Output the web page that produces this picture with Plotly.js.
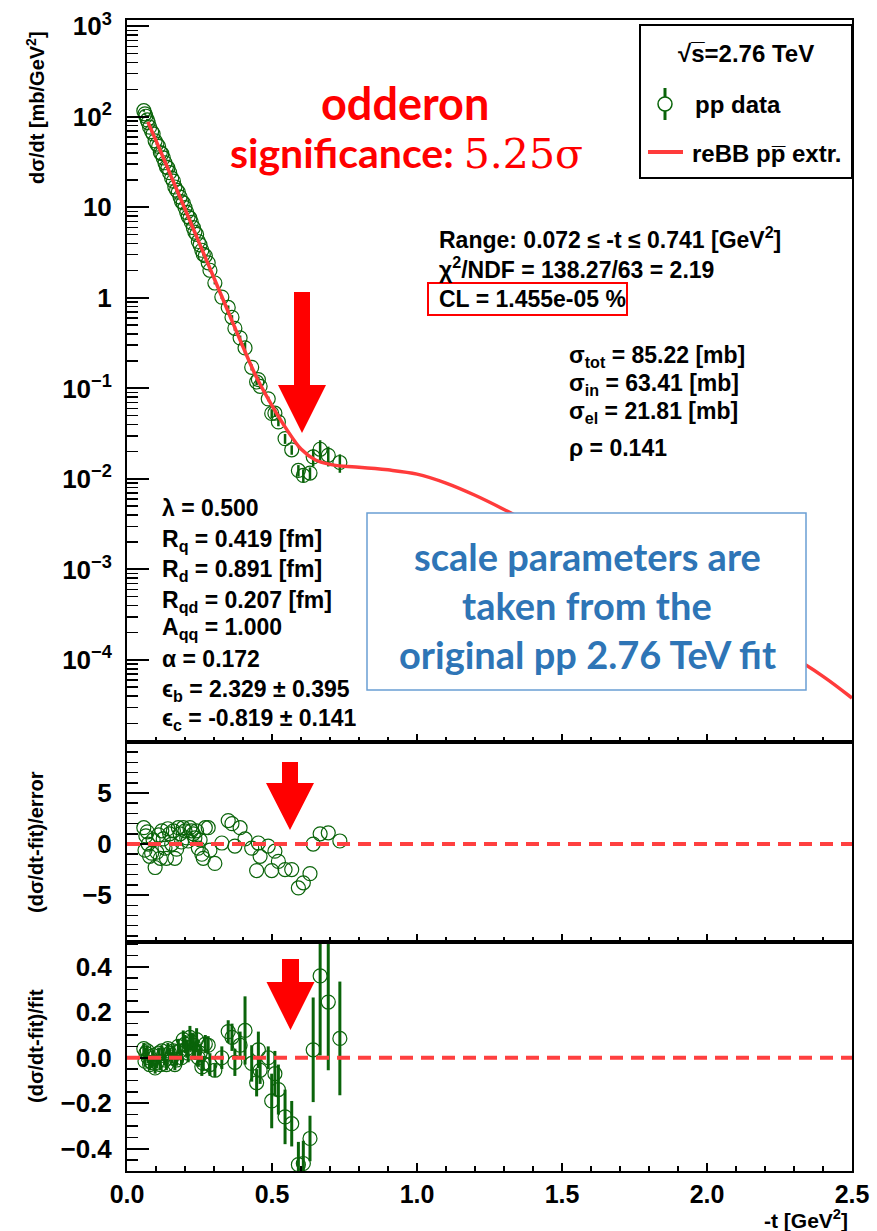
<!DOCTYPE html>
<html><head><meta charset="utf-8">
<script src="https://cdn.plot.ly/plotly-3.0.1.min.js"></script>
<style>html,body{margin:0;padding:0;background:#fff}</style>
</head><body><div id="plot" style="width:877px;height:1231px"></div>
<script>
// ---- data ----
const t = [0.058,0.062,0.065,0.070,0.073,0.078,0.085,0.090,0.097,0.103,0.109,0.115,0.120,0.125,0.131,0.136,0.141,0.147,0.154,0.160,0.165,0.171,0.177,0.183,0.188,0.194,0.200,0.206,0.211,0.217,0.222,0.229,0.234,0.240,0.246,0.252,0.258,0.263,0.270,0.280,0.286,0.303,0.327,0.349,0.362,0.372,0.390,0.407,0.430,0.447,0.453,0.459,0.487,0.499,0.510,0.522,0.545,0.568,0.591,0.608,0.631,0.642,0.666,0.694,0.734];
const dsdt = [117,108,101.6,92.5,86.5,76.9,68.7,64.9,54.3,50.1,47.1,40.3,39.2,35.2,31.1,27.9,27.4,24.2,21.0,19.5,16.8,15.5,14.7,13.0,11.6,11.2,9.94,8.79,7.91,7.59,6.82,5.96,5.33,5.02,4.20,3.85,3.36,3.03,2.92,2.44,2.02,1.46,1.02,0.785,0.61,0.461,0.362,0.2805,0.171,0.1178,0.1253,0.1055,0.0767,0.0530,0.0533,0.0427,0.0279,0.0210,0.01242,0.01094,0.01162,0.01754,0.02128,0.01824,0.01520];
const dsdtErr = [3.0,2.8,2.6,2.4,2.2,1.9,1.7,1.6,1.4,1.3,1.2,1.0,1.0,0.9,0.8,0.7,0.7,0.6,0.5,0.5,0.4,0.4,0.4,0.35,0.3,0.35,0.3,0.3,0.25,0.3,0.25,0.25,0.2,0.22,0.17,0.15,0.13,0.1,0.11,0.1,0.09,0.05,0.05,0.04,0.035,0.027,0.022,0.04,0.013,0.009,0.01,0.0065,0.0045,0.006,0.005,0.0045,0.0035,0.0025,0.0018,0.0018,0.0018,0.0038,0.0055,0.0045,0.0035];
const pull = [1.6,-0.6,0.8,1.2,0,-1.2,-0.9,0.4,-2.3,-0.8,0.9,-1.4,1.3,0.5,-0.4,-1.4,1.5,1.0,0,1.3,-1.4,-0.5,1.6,1.0,0.2,1.6,1.3,0.6,0.3,1.6,1.3,1.0,0.6,1.3,-0.4,0.4,-1.0,-1.4,1.6,1.6,-0.6,-1.9,0.1,2.3,2.0,-0.2,1.6,0.5,-0.4,-2.6,0.1,-1.2,-0.2,-2.6,-0.7,-1.7,-2.5,-2.5,-4.3,-3.8,-2.9,0,1.0,1.1,0.3];
const rel = [0.04,-0.015,0.02,0.03,0,-0.03,-0.02,0.01,-0.045,-0.02,0.02,-0.03,0.03,0.01,-0.01,-0.03,0.04,0.02,0,0.03,-0.03,-0.01,0.05,0.03,0,0.08,0.06,0.04,0.02,0.09,0.07,0.055,0.03,0.08,0,0.02,-0.04,-0.025,0.06,0.055,-0.03,-0.055,0,0.115,0.09,-0.02,0.055,0.12,-0.025,-0.11,0.035,-0.055,0,-0.19,-0.07,-0.14,-0.26,-0.29,-0.47,-0.465,-0.355,0.035,0.36,0.245,0.085];
const relErr = [0.025,0.025,0.025,0.025,0.025,0.025,0.025,0.025,0.025,0.025,0.025,0.025,0.025,0.025,0.025,0.025,0.025,0.025,0.025,0.025,0.025,0.025,0.03,0.03,0.03,0.04,0.04,0.04,0.04,0.05,0.04,0.05,0.04,0.05,0.04,0.04,0.04,0.03,0.04,0.04,0.05,0.03,0.05,0.05,0.06,0.06,0.06,0.15,0.08,0.06,0.08,0.06,0.05,0.12,0.1,0.11,0.12,0.1,0.1,0.1,0.1,0.23,0.35,0.3,0.25];
const tFit = [0.072,0.1,0.15,0.2,0.25,0.3,0.35,0.4,0.45,0.5,0.55,0.6,0.65,0.7,0.75,0.8,0.9,1.0,1.1,1.2,1.3,1.5,1.7,1.9,2.1,2.3,2.4,2.5];
const fitVal = [88,54.6,22.9,9.6,3.98,1.66,0.69,0.288,0.126,0.0646,0.0355,0.0214,0.0162,0.0145,0.0138,0.0135,0.0126,0.0113,0.0090,0.0066,0.0046,0.0021,0.00095,0.00044,0.00021,0.000105,0.000066,0.000038];
const yTickVals = [1e-4,1e-3,1e-2,1e-1,1,10,100,1000];
const yTickText = ['10<sup>−4</sup>','10<sup>−3</sup>','10<sup>−2</sup>','10<sup>−1</sup>','1','10','10<sup>2</sup>','10<sup>3</sup>'];

// ---- geometry helpers (pixel -> paper) ----
const L=127, R=852, T=20, B=1171;
const PX = x => (x-L)/(R-L);
const PY = y => (B-y)/(B-T);
const dTop=[PY(742),1], dMid=[PY(942),PY(742)], dBot=[0,PY(942)];

const GREEN='#0a640a', RED='#ff3b3b';
const FONT='Liberation Sans';
const tickFont={family:FONT,size:26,color:'black',weight:'bold'};
const xTickFont={family:FONT,size:25,color:'black',weight:'bold'};

const mk={symbol:'circle-open',size:14,color:GREEN,line:{width:1.2,color:GREEN}};
const traces=[
 {x:t,y:dsdt,error_y:{type:'data',array:dsdtErr,visible:true,thickness:2.5,width:0,color:GREEN},mode:'markers',marker:mk,xaxis:'x3',yaxis:'y3',showlegend:false},
 {x:tFit,y:fitVal,mode:'lines',line:{color:RED,width:3.5,shape:'spline'},xaxis:'x3',yaxis:'y3',showlegend:false},
 {x:t,y:pull,mode:'markers',marker:mk,xaxis:'x2',yaxis:'y2',showlegend:false},
 {x:t,y:rel,error_y:{type:'data',array:relErr,visible:true,thickness:3,width:0,color:GREEN},mode:'markers',marker:mk,xaxis:'x',yaxis:'y',showlegend:false}
];

function xax(anchor,labels){
 return {domain:[0,1],range:[0,2.5],anchor:anchor,dtick:0.5,tickformat:'.1f',ticks:'inside',ticklen:8,tickwidth:2,
  minor:{dtick:0.1,ticks:'inside',ticklen:5,tickwidth:1.5,tickcolor:'black'},
  showline:true,linewidth:2,linecolor:'black',mirror:true,showgrid:false,zeroline:false,
  showticklabels:labels,tickfont:xTickFont,tickcolor:'black',ticklabelstandoff:0};
}
function yax(dom,range,vals,minor,fmt){
 return {domain:dom,range:range,tickvals:vals,tickformat:fmt,ticks:'inside',ticklen:22,tickwidth:2,tickcolor:'black',
  minor:{dtick:minor,ticks:'inside',ticklen:11,tickwidth:1.5,tickcolor:'black'},
  showline:true,linewidth:2,linecolor:'black',mirror:true,showgrid:false,zeroline:false,
  tickfont:tickFont,ticklabelstandoff:8};
}
const x1=xax('y',true), x2=xax('y2',false), x3=xax('y3',false);
x2.matches='x'; x3.matches='x';
const y1=yax(dBot,[-0.498,0.509],[-0.4,-0.2,0,0.2,0.4],0.05,'.1f');
const y2=yax(dMid,[-9.6,10],[-5,0,5],1,'d');
const y3={domain:dTop,type:'log',range:[-4.906,3.07],tickvals:yTickVals,ticktext:yTickText,
  ticks:'inside',ticklen:22,tickwidth:2,tickcolor:'black',
  minor:{dtick:'D1',ticks:'inside',ticklen:11,tickwidth:1.5,tickcolor:'black'},
  showline:true,linewidth:2,linecolor:'black',mirror:true,showgrid:false,zeroline:false,
  tickfont:tickFont,ticklabelstandoff:8};

function txt(x,y,text,o){
 return Object.assign({xref:'paper',yref:'paper',x:PX(x),y:PY(y),text:text,showarrow:false,xanchor:'left',yanchor:'middle',
  font:{family:FONT,size:23,color:'black',weight:'bold'}},o||{});
}
function pth(pts){return 'M'+pts.map(p=>PX(p[0])+','+PY(p[1])).join(' L')+' Z';}
function arrow(cx,sw,hw,y0,y1,yApex){
 return {type:'path',xref:'paper',yref:'paper',layer:'above',fillcolor:'#ff0000',line:{width:0},
  path:pth([[cx-sw,y0],[cx+sw,y0],[cx+sw,y1],[cx+hw,y1],[cx,yApex],[cx-hw,y1],[cx-sw,y1]])};
}
function rect(x0,y0,x1,y1,col,w,fill){
 return {type:'rect',xref:'paper',yref:'paper',x0:PX(x0),x1:PX(x1),y0:PY(y1),y1:PY(y0),layer:'above',
  line:{color:col,width:w},fillcolor:fill||'rgba(0,0,0,0)'};
}

const shapes=[
 {type:'line',xref:'paper',yref:'y2',x0:0,x1:1,y0:0,y1:0,layer:'above',line:{color:'#ff4040',width:4,dash:'13px,8px'}},
 {type:'line',xref:'paper',yref:'y',x0:0,x1:1,y0:0,y1:0,layer:'above',line:{color:'#ff4040',width:4,dash:'13px,8px'}},
 arrow(302,8,24,292,385,433),
 arrow(290,8,24,762,783,830),
 arrow(290.5,8.5,24,959,982,1030),
 rect(428,283,627,315,'#ff0000',2),
 rect(367,513,806,690,'#6a9fd4',1.5,'white'),
 rect(640,25,852,178,'black',2,'white'),
 {type:'line',xref:'paper',yref:'paper',x0:PX(665),x1:PX(665),y0:PY(88),y1:PY(120),layer:'above',line:{color:GREEN,width:3}},
 {type:'circle',xref:'paper',yref:'paper',x0:PX(658),x1:PX(672),y0:PY(111),y1:PY(97),layer:'above',fillcolor:'white',line:{color:GREEN,width:1.5}},
 {type:'line',xref:'paper',yref:'paper',x0:PX(648),x1:PX(683),y0:PY(152),y1:PY(152),layer:'above',line:{color:RED,width:4}}
];

const blue='#2e75b6';
const blueFont={family:'Lato',size:38,color:blue,weight:'bold'};
const anns=[
 txt(36,108,'dσ/dt [mb/GeV<sup>2</sup>]',{xanchor:'center',textangle:-90,font:{family:FONT,size:20,color:'black',weight:'bold'}}),
 txt(36,842,'(dσ/dt-fit)/error',{xanchor:'center',textangle:-90,font:{family:FONT,size:20,color:'black',weight:'bold'}}),
 txt(36,1046,'(dσ/dt-fit)/fit',{xanchor:'center',textangle:-90,font:{family:FONT,size:20,color:'black',weight:'bold'}}),
 txt(850,1219,'-t [GeV<sup>2</sup>]',{xanchor:'right',font:{family:FONT,size:21,color:'black',weight:'bold'}}),
 txt(405,103,'odderon',{xanchor:'center',font:{family:'Lato',size:45,color:'#ff0000',weight:'bold'}}),
 txt(406,153,'significance: <span style="font-family:DejaVu Serif;font-weight:normal">5.25σ</span>',{xanchor:'center',font:{family:'Lato',size:41,color:'#ff0000',weight:'bold'}}),
 txt(437,238,'Range: 0.072 ≤ -t ≤ 0.741 [GeV<sup>2</sup>]'),
 txt(437,268,'χ<sup>2</sup>/NDF = 138.27/63 = 2.19'),
 txt(437,299,'CL = 1.455e-05 %'),
 txt(567,357,'σ<sub>tot</sub> = 85.22 [mb]'),
 txt(567,385,'σ<sub>in</sub> = 63.41 [mb]'),
 txt(567,413,'σ<sub>el</sub> = 21.81 [mb]'),
 txt(567,448,'ρ = 0.141'),
 txt(160,508,'λ = 0.500'),
 txt(160,540,'R<sub>q</sub> = 0.419 [fm]'),
 txt(160,570,'R<sub>d</sub> = 0.891 [fm]'),
 txt(160,601,'R<sub>qd</sub> = 0.207 [fm]'),
 txt(160,629,'A<sub>qq</sub> = 1.000'),
 txt(160,659,'α = 0.172'),
 txt(160,690,'ϵ<sub>b</sub> = 2.329 ± 0.395'),
 txt(160,719,'ϵ<sub>c</sub> = -0.819 ± 0.141'),
 txt(587,556,'scale parameters are',{xanchor:'center',font:blueFont}),
 txt(587,605,'taken from the',{xanchor:'center',font:blueFont}),
 txt(587,654,'original pp 2.76 TeV fit',{xanchor:'center',font:blueFont}),
 txt(746,53,'√s̅=2.76 TeV',{xanchor:'center',font:{family:FONT,size:24,color:'black',weight:'bold'}}),
 txt(693,105,'pp data',{font:{family:FONT,size:24,color:'black',weight:'bold'}}),
 txt(690,153,'reBB pp̅ extr.',{font:{family:FONT,size:24,color:'black',weight:'bold'}})
];

const layout={width:877,height:1231,margin:{l:L,r:877-R,t:T,b:1231-B},paper_bgcolor:'white',plot_bgcolor:'white',
 showlegend:false,xaxis:x1,xaxis2:x2,xaxis3:x3,yaxis:y1,yaxis2:y2,yaxis3:y3,shapes:shapes,annotations:anns};
Plotly.newPlot('plot',traces,layout,{displayModeBar:false,staticPlot:true});
</script></body></html>
